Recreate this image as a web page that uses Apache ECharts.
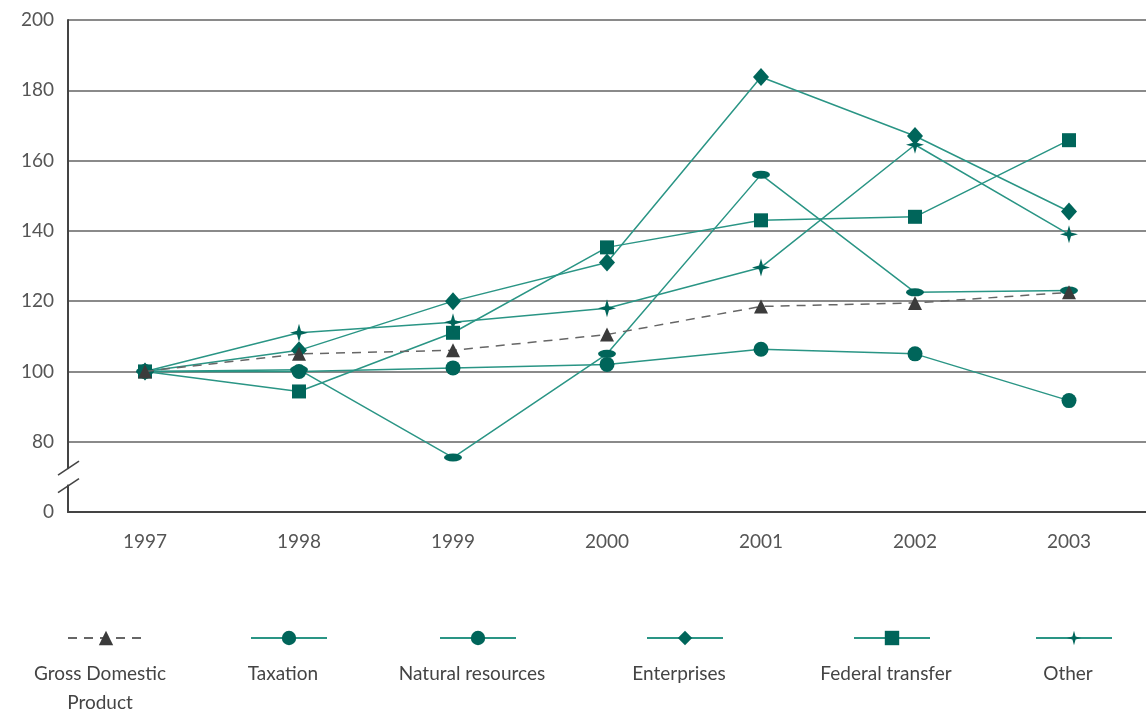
<!DOCTYPE html>
<html>
<head>
<meta charset="utf-8">
<script src="https://cdn.jsdelivr.net/npm/echarts@6/dist/echarts.min.js"></script>
<style>
  html, body { margin: 0; padding: 0; background: #fff; }
  #chart { width: 1146px; height: 710px; }
</style>
</head>
<body>
<div id="chart"></div>
<script>
// years on the x axis
var years = ['1997', '1998', '1999', '2000', '2001', '2002', '2003'];
// index values, 1997 = 100
var gdp = [100, 105, 106, 110.5, 118.5, 119.5, 122.5];
var taxation = [100, 100, 101, 102, 106.3, 105, 91.7];
var naturalResources = [100, 100.5, 75.5, 105, 156, 122.5, 123];
var enterprises = [100, 106, 120, 131, 183.8, 167, 145.5];
var federalTransfer = [100, 94.3, 111, 135.3, 143, 144, 165.8];
var other = [100, 111, 114, 118, 129.6, 164.5, 139];
var seriesNames = ['Gross Domestic Product', 'Taxation', 'Natural resources', 'Enterprises', 'Federal transfer', 'Other'];
var legendLabels = ['Gross Domestic\nProduct', 'Taxation', 'Natural resources', 'Enterprises', 'Federal transfer', 'Other'];
// y axis bottom is a broken axis: 60 is shown as 0
var yTicks = [60, 80, 100, 120, 140, 160, 180, 200];

var teal = '#2a9585';
var darkTeal = '#00655a';
var star4 = 'path://M0,-10 L2.2,-2.2 L10,0 L2.2,2.2 L0,10 L-2.2,2.2 L-10,0 L-2.2,-2.2 Z';

var chart = echarts.init(document.getElementById('chart'));

function tealSeries(name, data, symbol, size) {
    return {
        name: name,
        type: 'line',
        data: data,
        symbol: symbol,
        symbolSize: size,
        showAllSymbol: true,
        lineStyle: { color: teal, width: 1.5 },
        itemStyle: { color: darkTeal, borderWidth: 0 },
        z: 3
    };
}

var legendCenters = [100, 283, 472, 679, 886, 1068];

chart.setOption({
    animation: false,
    textStyle: { fontFamily: 'Lato' },
    grid: { left: 68, top: 20, right: -8, bottom: 198 },
    xAxis: {
        type: 'category',
        data: years,
        boundaryGap: true,
        axisLine: { lineStyle: { color: '#444', width: 2 } },
        axisTick: { show: false },
        axisLabel: { color: '#555', fontSize: 19, margin: 20 }
    },
    yAxis: {
        type: 'value',
        min: yTicks[0],
        max: yTicks[yTicks.length - 1],
        interval: 20,
        axisLine: { show: true, lineStyle: { color: '#444', width: 2 } },
        axisTick: { show: false },
        axisLabel: {
            color: '#555', fontSize: 19, margin: 14,
            formatter: function (v) { return v === yTicks[0] ? '0' : String(v); }
        },
        splitLine: { lineStyle: { color: '#8a8a8a', width: 2 } }
    },
    legend: seriesNames.map(function (n, i) {
        return {
            data: [n],
            left: legendCenters[i] - 38,
            top: 624,
            itemWidth: 76,
            itemHeight: 18,
            itemGap: 0,
            formatter: function () { return ''; },
            selectedMode: false
        };
    }),
    series: [
        {
            name: seriesNames[0],
            type: 'line',
            data: gdp,
            symbol: 'triangle',
            symbolSize: 14,
            lineStyle: { color: '#666', width: 1.5, type: [9, 7] },
            itemStyle: { color: '#3b3b3b' },
            z: 4
        },
        tealSeries(seriesNames[1], taxation, 'circle', 15),
        tealSeries(seriesNames[2], naturalResources, 'circle', [18, 8]),
        tealSeries(seriesNames[3], enterprises, 'diamond', [16, 18]),
        tealSeries(seriesNames[4], federalTransfer, 'rect', 14),
        tealSeries(seriesNames[5], other, star4, 18)
    ]
});

// legend labels under the icons, and the break marks on the y axis
var p1 = chart.convertToPixel({ yAxisIndex: 0 }, 72.5);
var p2 = chart.convertToPixel({ yAxisIndex: 0 }, 67.5);
var axisX = 68;
var graphics = legendLabels.map(function (t, i) {
    return {
        id: 'lbl' + i,
        type: 'text',
        x: legendCenters[i],
        y: 659,
        style: {
            text: t,
            align: 'center',
            verticalAlign: 'top',
            fill: '#444',
            fontSize: 19,
            fontFamily: 'Lato',
            lineHeight: 29
        }
    };
});
graphics.push(
    { id: 'gap', type: 'rect', shape: { x: axisX - 2, y: p1 + 1, width: 4, height: p2 - p1 - 2 }, style: { fill: '#fff' }, z: 10 },
    { id: 'brk1', type: 'line', shape: { x1: axisX - 10, y1: p1 + 7, x2: axisX + 11, y2: p1 - 7 }, style: { stroke: '#444', lineWidth: 1.5 }, z: 11 },
    { id: 'brk2', type: 'line', shape: { x1: axisX - 10, y1: p2 + 7, x2: axisX + 11, y2: p2 - 7 }, style: { stroke: '#444', lineWidth: 1.5 }, z: 11 }
);
chart.setOption({ graphic: graphics });

window.addEventListener('resize', function () { chart.resize(); });
</script>
</body>
</html>
